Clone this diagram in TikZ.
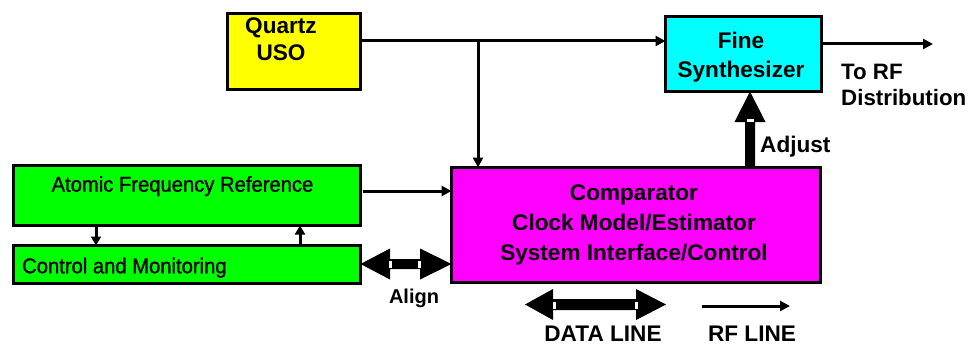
\documentclass[tikz,border=0pt]{standalone}
\usepackage{fontspec}
\setmainfont{Liberation Sans}
\newfontfamily\narrowfont[FakeStretch=0.94, FakeBold=1]{Liberation Sans}
\usetikzlibrary{arrows.meta}
\definecolor{boxyellow}{RGB}{255,255,0}
\definecolor{boxcyan}{RGB}{0,255,255}
\definecolor{boxgreen}{RGB}{0,255,0}
\definecolor{boxmagenta}{RGB}{255,0,255}
\tikzset{
  blockbox/.style={draw=black, line width=3pt, inner sep=0pt, outer sep=0pt},
  boldtxt/.style={inner sep=0pt, font=\bfseries\fontsize{22.6}{29}\selectfont},
  plaintxt/.style={inner sep=0pt, font=\narrowfont\fontsize{21.5}{24}\selectfont},
  rfline/.style={line width=3pt, -{Triangle[length=10pt,width=10pt]}},
  shortline/.style={line width=3pt, -{Triangle[length=9pt,width=10pt]}},
}
\begin{document}
\begin{tikzpicture}[x=1pt,y=-1pt]
\useasboundingbox (0,0) rectangle (971,345);

% boxes
\node[blockbox, fill=boxyellow, minimum width=133pt, minimum height=76pt] (uso) at (294,51.5) {};
\node[blockbox, fill=boxcyan, minimum width=156pt, minimum height=75pt] (synth) at (743.5,54) {};
\node[blockbox, fill=boxmagenta, minimum width=369pt, minimum height=115pt] (comp) at (636,225) {};
\node[blockbox, fill=boxgreen, minimum width=347pt, minimum height=60pt] (afr) at (187,195.5) {};
\node[blockbox, fill=boxgreen, minimum width=347pt, minimum height=38pt] (cm) at (187,264.5) {};

% box texts
\node[boldtxt, align=center, font=\bfseries\fontsize{22.6}{27}\selectfont] (usotxt) at (281,39) {Quartz\\USO};
\node[boldtxt, align=center] (synthtxt) at (741,57.5) {Fine\\Synthesizer};
\node[boldtxt, align=center, font=\bfseries\fontsize{22.6}{30}\selectfont] (comptxt) at (634,224.5) {Comparator\\Clock Model/Estimator\\System Interface/Control};
\node[plaintxt, anchor=base] (afrtxt) at (182.5,191.7) {Atomic Frequency Reference};
\node[plaintxt, anchor=base west] (cmtxt) at (22,273.3) {Control and Monitoring};

% free labels
\node[boldtxt, align=left, anchor=west, font=\bfseries\fontsize{22.3}{26}\selectfont] (torf) at (841,85) {To RF\\Distribution};
\node[boldtxt, anchor=base west] (adjtxt) at (760,152.7) {Adjust};
\node[boldtxt, anchor=base, font=\bfseries\fontsize{20}{24}\selectfont] (aligntxt) at (414,303) {Align};
\node[boldtxt, anchor=base] (datatxt) at (603,341.5) {DATA LINE};
\node[boldtxt, anchor=base] (rftxt) at (752,341.5) {RF LINE};

% helper points for the RF connectors
\coordinate (tap) at (478,41);
\coordinate (rfout) at (933,44);
\coordinate (legA) at (702,306);
\coordinate (legB) at (790,306);

% RF connectors
\draw[line width=3pt] (uso.east |- tap) -- (tap);
\draw[rfline] (tap) -- (synth.west |- tap);
\draw[rfline] (tap) -- (tap |- comp.north);
\draw[rfline] (synth.east |- rfout) -- (rfout);
\draw[rfline] ([xshift=2pt]afr.east |- 0,191) -- (comp.west |- 0,191);
\draw[shortline] (afr.south -| 96,0) -- (cm.north -| 96,0);
\draw[shortline] (cm.north -| 300,0) -- (afr.south -| 300,0);
\draw[rfline] (legA) -- (legB);

% Adjust data arrow (comparator -> synthesizer)
\fill (comp.north -| 745,0) -- (745,122) -- (734.5,122) -- (synth.south -| 750,0) -- (765.5,122) -- (755,122) -- (comp.north -| 755,0) -- cycle;
\fill[white] (746.5,118.5) rectangle (753.5,121.5);

% Align data arrow (control/monitoring <-> comparator)
\fill (cm.east |- 0,264) -- (390,248.5) -- (390,259) -- (420,259) -- (420,248.5) -- (comp.west |- 0,264)
      -- (420,279.5) -- (420,269) -- (390,269) -- (390,279.5) -- cycle;
\fill[white] (389,260.5) rectangle (392,267.5);
\fill[white] (418,260.5) rectangle (421,267.5);

% legend data arrow
\fill (525,304.5) -- (553,289) -- (553,299) -- (636,299) -- (636,289) -- (666,304.5)
      -- (636,320) -- (636,310) -- (553,310) -- (553,320) -- cycle;
\fill[white] (552.5,302) rectangle (555.5,309);
\fill[white] (634.5,302) rectangle (637.5,309);
\end{tikzpicture}
\end{document}
